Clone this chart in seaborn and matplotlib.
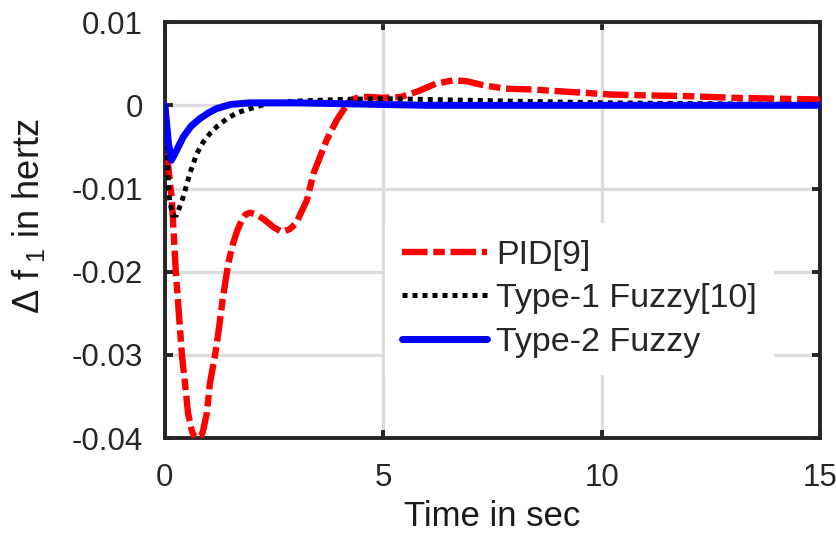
import numpy as np
import pandas as pd
import matplotlib
matplotlib.use("Agg")
import matplotlib.pyplot as plt
import seaborn as sns

# Frequency deviation of area 1 after a load step, three controllers
t_pid = [0.0, 0.07, 0.16, 0.25, 0.39, 0.46, 0.53, 0.62, 0.68, 0.75, 0.82,
         0.87, 0.96, 1.03, 1.15, 1.24, 1.32, 1.45, 1.56, 1.66, 1.76, 1.85,
         1.95, 2.12, 2.29, 2.5, 2.68, 2.85, 3.0, 3.25, 3.4, 3.55, 3.7, 3.93,
         4.08, 4.24, 4.45, 4.7, 5.0, 5.4, 5.8, 6.2, 6.6, 6.9, 7.3, 7.8, 8.4,
         9.0, 9.6, 10.2, 11.0, 12.0, 13.0, 14.0, 15.0]
f_pid = [0.0, -0.007, -0.0114, -0.020, -0.030, -0.0334, -0.037, -0.0392,
         -0.0398, -0.040, -0.0398, -0.0392, -0.037, -0.0334, -0.030, -0.0267,
         -0.0234, -0.019, -0.0166, -0.0150, -0.0138, -0.0131, -0.0129,
         -0.0132, -0.0138, -0.0147, -0.0152, -0.0149, -0.0142, -0.0114,
         -0.0082, -0.0062, -0.0042, -0.0018, -0.0006, 0.0006, 0.0010, 0.0010,
         0.0009, 0.0010, 0.0017, 0.0026, 0.0030, 0.0029, 0.0024, 0.0020,
         0.0019, 0.0017, 0.0015, 0.0013, 0.0012, 0.0011, 0.0009, 0.0008,
         0.0007]

t_t1 = [0.0, 0.05, 0.1, 0.17, 0.27, 0.42, 0.57, 0.73, 0.88, 1.03, 1.2, 1.42,
        1.65, 1.95, 2.33, 3.0, 4.0, 5.0, 6.0, 7.0, 8.0, 10.0, 12.0, 15.0]
f_t1 = [0.0, -0.006, -0.011, -0.0132, -0.0132, -0.011, -0.0082, -0.0058,
        -0.0044, -0.0034, -0.0025, -0.0016, -0.0009, -0.0004, 0.0002, 0.0005,
        0.0007, 0.0008, 0.0007, 0.0006, 0.0005, 0.0003, 0.0002, 0.0001]

t_t2 = [0.0, 0.08, 0.15, 0.25, 0.42, 0.6, 0.8, 1.0, 1.18, 1.5, 1.95, 2.5,
        3.0, 4.0, 5.0, 6.0, 15.0]
f_t2 = [0.0, -0.0045, -0.0066, -0.0056, -0.0038, -0.0025, -0.0016, -0.0009,
        -0.0004, 0.0001, 0.0003, 0.0003, 0.0003, 0.0002, 0.0001, 0.0, 0.0]

series_names = ["PID[9]", "Type-1 Fuzzy[10]", "Type-2 Fuzzy"]

x_ticks = [0, 5, 10, 15]
x_ticklabels = ["0", "5", "10", "15"]
y_ticks = [-0.04, -0.03, -0.02, -0.01, 0.0, 0.01]
y_ticklabels = ["-0.04", "-0.03", "-0.02", "-0.01", "0", "0.01"]

sns.set_style("ticks")
plt.rcParams["font.family"] = ["Liberation Sans", "DejaVu Sans"]
plt.rcParams["mathtext.fontset"] = "custom"
plt.rcParams["mathtext.rm"] = "Liberation Sans"
plt.rcParams["mathtext.it"] = "Liberation Sans"
plt.rcParams["axes.unicode_minus"] = False

fig, ax = plt.subplots(figsize=(8.37, 5.39), dpi=100)
fig.subplots_adjust(left=0.197, right=0.98, top=0.959, bottom=0.187)

df_pid = pd.DataFrame({"t": t_pid, "f": f_pid})
df_t1 = pd.DataFrame({"t": t_t1, "f": f_t1})
df_t2 = pd.DataFrame({"t": t_t2, "f": f_t2})

sns.lineplot(data=df_pid, x="t", y="f", ax=ax, color="#ff0000", lw=4.6,
             linestyle=(0, (4.0, 0.9, 1.8, 0.9)), sort=False, estimator=None,
             label=series_names[0], zorder=3)
sns.lineplot(data=df_t1, x="t", y="f", ax=ax, color="#000000", lw=3.6,
             linestyle=(0, (1.0, 1.0)), sort=False, estimator=None,
             label=series_names[1], zorder=4)
sns.lineplot(data=df_t2, x="t", y="f", ax=ax, color="#0000ff", lw=5.0,
             linestyle="-", sort=False, estimator=None,
             label=series_names[2], zorder=5)
for ln in ax.lines:
    ln.set_dash_capstyle("butt")
    ln.set_solid_capstyle("round")
    ln.set_solid_joinstyle("round")

ax.set_xlim(0, 15)
ax.set_ylim(-0.04, 0.01)
ax.set_xticks(x_ticks)
ax.set_xticklabels(x_ticklabels)
ax.set_yticks(y_ticks)
ax.set_yticklabels(y_ticklabels)

ax.grid(True, color="#dcdcdc", lw=2.4)
ax.set_axisbelow(True)
for s in ax.spines.values():
    s.set_visible(True)
    s.set_color("#262626")
    s.set_linewidth(2.8)
ax.tick_params(direction="in", length=6, width=2.8, color="#262626",
               top=True, right=True, labelsize=22.5, labelcolor="#262626")
ax.tick_params(axis="y", pad=16)
ax.tick_params(axis="x", pad=18)

ax.set_xlabel("Time in sec", fontsize=25, color="#1a1a1a", labelpad=5)
ax.set_ylabel(r"$\Delta\ \mathrm{f}_{\ 1}$ in hertz", fontsize=26,
              color="#1a1a1a")
ax.yaxis.set_label_coords(-0.18, 0.534)

leg = ax.legend(loc="upper left", bbox_to_anchor=(0.336, 0.517),
                fontsize=24.5, frameon=True, fancybox=False, framealpha=1.0,
                handlelength=2.5, handletextpad=0.26, labelspacing=0.36,
                borderpad=0.5, borderaxespad=0.0)
leg.get_frame().set_edgecolor("none")
leg.get_frame().set_facecolor("white")

fig.savefig("out.png", dpi=100)
